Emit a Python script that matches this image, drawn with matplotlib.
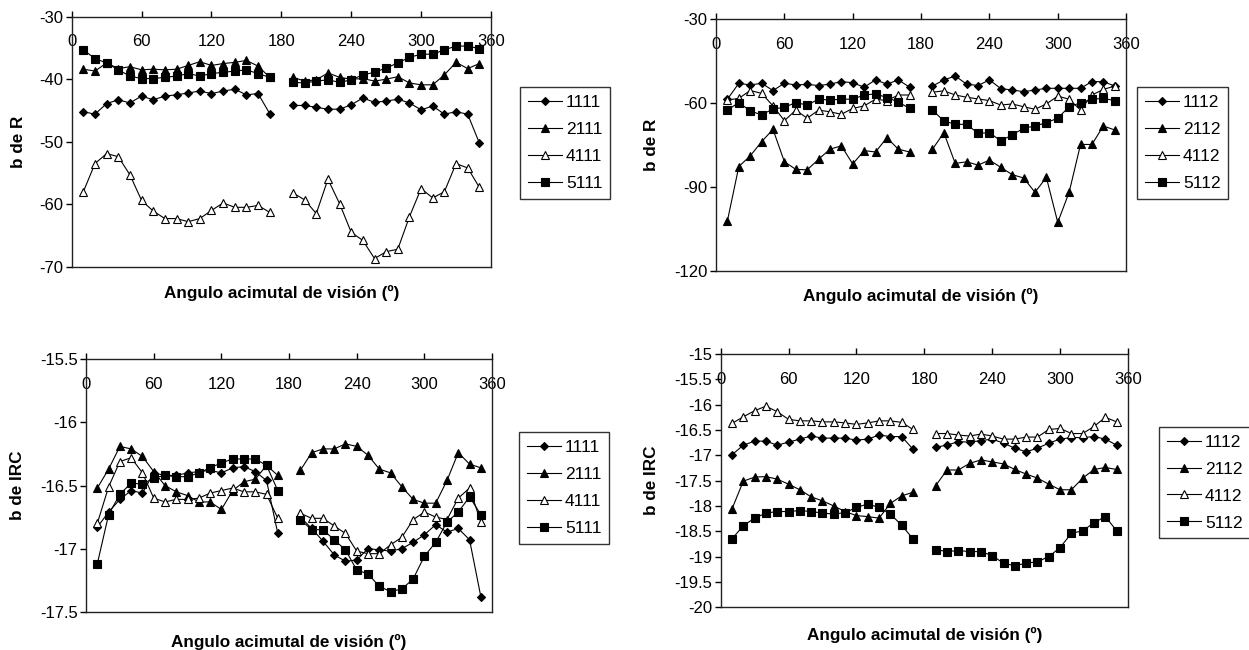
import numpy as np
import matplotlib
matplotlib.use("Agg")
import matplotlib.pyplot as plt

plt.rcParams['font.family'] = ['Liberation Sans', 'DejaVu Sans']
plt.rcParams['axes.unicode_minus'] = False

nan = np.nan

# viewing azimuth (deg); 180 left empty -> gap in the lines
angles = [10, 20, 30, 40, 50, 60, 70, 80, 90, 100, 110, 120, 130, 140, 150, 160, 170,
          180,
          190, 200, 210, 220, 230, 240, 250, 260, 270, 280, 290, 300, 310, 320, 330, 340, 350]

# b de R, plots 1111..5111
r_1111 = [-45.2, -45.6, -43.9, -43.3, -43.8, -42.7, -43.3, -42.7, -42.5, -42.2, -41.9, -42.3, -41.9, -41.6, -42.5, -42.3, -45.5, nan,
          -44.2, -44.2, -44.5, -44.8, -44.8, -44.1, -43.0, -43.7, -43.5, -43.2, -43.8, -44.9, -44.3, -45.6, -45.2, -45.6, -50.2]
r_2111 = [-38.4, -38.7, -37.4, -38.3, -38.0, -38.5, -38.4, -38.5, -38.4, -37.8, -37.2, -37.8, -37.5, -37.3, -37.0, -37.9, -39.7, nan,
          -39.7, -40.3, -40.1, -39.0, -39.7, -40.0, -39.9, -40.3, -40.0, -39.6, -40.6, -40.9, -40.9, -39.3, -37.3, -38.3, -37.5]
r_4111 = [-58.0, -53.5, -51.9, -52.4, -55.3, -59.4, -61.1, -62.3, -62.3, -62.8, -62.3, -61.0, -59.8, -60.5, -60.5, -60.2, -61.3, nan,
          -58.2, -59.3, -61.5, -56.0, -59.9, -64.5, -65.8, -68.7, -67.6, -67.2, -62.0, -57.5, -59.0, -58.0, -53.5, -54.2, -57.3]
r_5111 = [-35.3, -36.7, -37.4, -38.5, -39.5, -39.9, -39.9, -39.7, -39.5, -39.1, -39.5, -39.1, -38.9, -38.7, -38.5, -39.1, -39.7, nan,
          -40.5, -40.6, -40.3, -40.1, -40.5, -40.1, -39.3, -38.9, -38.2, -37.4, -36.5, -36.0, -36.0, -35.3, -34.7, -34.7, -35.1]

# b de R, plots 1112..5112
r_1112 = [-58.6, -52.9, -53.5, -52.9, -55.5, -52.9, -53.5, -53.3, -53.7, -53.2, -52.3, -52.7, -54.3, -51.7, -53.2, -51.7, -54.3, nan,
          -53.9, -51.7, -50.3, -53.2, -53.7, -51.7, -54.8, -55.3, -55.9, -55.3, -54.7, -54.7, -54.7, -54.7, -52.3, -52.3, -53.9]
r_2112 = [-102.1, -82.7, -78.9, -73.8, -69.4, -81.0, -83.7, -83.9, -80.1, -76.5, -75.3, -81.8, -77.0, -77.5, -72.4, -76.5, -77.5, nan,
          -76.5, -70.6, -81.6, -81.0, -82.2, -80.4, -83.0, -85.6, -86.8, -91.9, -86.6, -102.7, -91.9, -74.8, -74.8, -68.2, -69.6]
r_4112 = [-58.9, -58.3, -55.5, -56.5, -61.0, -66.3, -62.5, -65.4, -62.5, -63.1, -64.0, -61.9, -61.0, -58.6, -59.1, -57.1, -57.1, nan,
          -56.1, -55.6, -57.1, -57.9, -58.5, -59.1, -60.7, -60.3, -61.3, -62.2, -60.3, -57.5, -58.6, -62.5, -57.1, -55.1, -53.9]
r_5112 = [-62.5, -59.8, -62.8, -64.2, -62.1, -61.5, -59.8, -60.7, -58.6, -58.9, -58.6, -58.6, -57.1, -56.7, -58.0, -59.6, -61.9, nan,
          -62.5, -66.4, -67.6, -67.6, -70.8, -70.6, -73.5, -71.4, -69.0, -68.2, -67.0, -65.4, -61.3, -59.9, -58.6, -58.3, -59.1]

# b de IRC, plots 1111..5111
irc_1111 = [-16.83, -16.71, -16.61, -16.54, -16.56, -16.40, -16.42, -16.42, -16.40, -16.39, -16.38, -16.40, -16.36, -16.35, -16.39, -16.46, -16.88, nan,
            -16.75, -16.84, -16.94, -17.05, -17.10, -17.09, -17.00, -17.01, -17.02, -17.00, -16.95, -16.89, -16.81, -16.87, -16.84, -16.93, -17.38]
irc_2111 = [-16.52, -16.37, -16.19, -16.21, -16.27, -16.39, -16.50, -16.55, -16.58, -16.63, -16.63, -16.69, -16.54, -16.47, -16.45, -16.34, -16.42, nan,
            -16.38, -16.24, -16.21, -16.21, -16.17, -16.19, -16.26, -16.37, -16.40, -16.51, -16.61, -16.64, -16.64, -16.46, -16.24, -16.33, -16.36]
irc_4111 = [-16.80, -16.51, -16.31, -16.28, -16.40, -16.60, -16.63, -16.61, -16.61, -16.60, -16.56, -16.54, -16.52, -16.55, -16.55, -16.57, -16.76, nan,
            -16.72, -16.76, -16.76, -16.82, -16.88, -17.02, -17.04, -17.04, -16.97, -16.91, -16.77, -16.71, -16.75, -16.77, -16.60, -16.52, -16.79]
irc_5111 = [-17.12, -16.73, -16.57, -16.48, -16.49, -16.44, -16.42, -16.43, -16.43, -16.40, -16.36, -16.32, -16.29, -16.29, -16.29, -16.34, -16.54, nan,
            -16.77, -16.85, -16.85, -16.93, -17.01, -17.17, -17.20, -17.30, -17.34, -17.32, -17.24, -17.06, -16.95, -16.79, -16.71, -16.59, -16.73]

# b de IRC, plots 1112..5112
irc_1112 = [-16.99, -16.80, -16.72, -16.72, -16.80, -16.74, -16.68, -16.62, -16.66, -16.66, -16.66, -16.70, -16.68, -16.60, -16.63, -16.63, -16.88, nan,
            -16.84, -16.80, -16.73, -16.74, -16.71, -16.68, -16.76, -16.86, -16.93, -16.86, -16.76, -16.68, -16.65, -16.65, -16.63, -16.68, -16.80]
irc_2112 = [-18.06, -17.51, -17.43, -17.42, -17.47, -17.57, -17.68, -17.82, -17.90, -18.00, -18.11, -18.19, -18.21, -18.24, -17.95, -17.80, -17.73, nan,
            -17.60, -17.29, -17.29, -17.16, -17.09, -17.13, -17.17, -17.28, -17.37, -17.45, -17.57, -17.68, -17.68, -17.45, -17.28, -17.24, -17.28]
irc_4112 = [-16.37, -16.24, -16.12, -16.03, -16.14, -16.29, -16.32, -16.32, -16.34, -16.34, -16.36, -16.39, -16.36, -16.32, -16.32, -16.35, -16.49, nan,
            -16.57, -16.57, -16.60, -16.62, -16.58, -16.62, -16.68, -16.68, -16.64, -16.64, -16.49, -16.47, -16.57, -16.57, -16.43, -16.25, -16.34]
irc_5112 = [-18.65, -18.39, -18.24, -18.14, -18.11, -18.11, -18.09, -18.11, -18.14, -18.16, -18.13, -18.03, -17.96, -18.03, -18.16, -18.38, -18.65, nan,
            -18.86, -18.90, -18.88, -18.90, -18.90, -18.98, -19.13, -19.18, -19.13, -19.10, -19.00, -18.82, -18.54, -18.49, -18.33, -18.21, -18.49]

x_ticks = [0, 60, 120, 180, 240, 300, 360]

# marker style per series slot: diamond, filled tri, open tri, square
styles = [
    dict(marker='D', ms=4.5, mfc='black'),
    dict(marker='^', ms=6.0, mfc='black'),
    dict(marker='^', ms=6.0, mfc='white'),
    dict(marker='s', ms=5.2, mfc='black'),
]


def draw_panel(rect, series, labels, ylabel, y_ticks, legend_xy, ylab_x, xlab_y):
    ax = fig.add_axes(rect)
    for vals, lab, st in zip(series, labels, styles):
        ax.plot(angles, vals, color='black', lw=0.8, mec='black', mew=0.8,
                label=lab, **st)

    ax.set_xlim(0, 360)
    ax.set_ylim(y_ticks[-1], y_ticks[0])
    ax.set_xticks(x_ticks)
    ax.set_yticks(y_ticks)
    ax.set_yticklabels(['{:g}'.format(v) for v in y_ticks])

    # x axis sits on the top edge, labels drawn just under it
    ax.tick_params(axis='x', top=True, bottom=False, labeltop=True, labelbottom=False,
                   direction='out', length=4, width=1, pad=-27.5, labelsize=12)
    ax.tick_params(axis='y', direction='out', length=4, width=1, labelsize=12, pad=2)
    for sp in ax.spines.values():
        sp.set_linewidth(1.0)
        sp.set_color('#222222')

    ax.set_ylabel(ylabel, fontsize=12.3, fontweight='bold')
    ax.yaxis.set_label_coords(ylab_x, 0.5)
    ax.yaxis.label.set_va('center')
    ax.set_xlabel('Angulo acimutal de visión (º)', fontsize=12.3, fontweight='bold')
    ax.xaxis.set_label_position('bottom')
    ax.xaxis.set_label_coords(0.5, xlab_y)
    ax.xaxis.label.set_va('center')

    handles, labs = ax.get_legend_handles_labels()
    leg = fig.legend(handles, labs, loc='upper left',
                     bbox_to_anchor=legend_xy, bbox_transform=fig.transFigure,
                     fontsize=12.5, frameon=True, fancybox=False, borderaxespad=0,
                     handlelength=2.0, handletextpad=0.2, labelspacing=0.68,
                     borderpad=0.45)
    leg.get_frame().set_edgecolor('black')
    leg.get_frame().set_linewidth(1.0)
    return ax


fig = plt.figure(figsize=(12.49, 6.5), dpi=100)

draw_panel([0.0574, 0.5897, 0.3357, 0.3846], [r_1111, r_2111, r_4111, r_5111],
           ['1111', '2111', '4111', '5111'], 'b de R', [-30, -40, -50, -60, -70],
           (0.4163, 0.8662), -0.128, -0.105)
draw_panel([0.5733, 0.5835, 0.3283, 0.3868], [r_1112, r_2112, r_4112, r_5112],
           ['1112', '2112', '4112', '5112'], 'b de R', [-30, -60, -90, -120],
           (0.9103, 0.8662), -0.157, -0.10)
draw_panel([0.0689, 0.0589, 0.3251, 0.3883], [irc_1111, irc_2111, irc_4111, irc_5111],
           ['1111', '2111', '4111', '5111'], 'b de IRC', [-15.5, -16, -16.5, -17, -17.5],
           (0.4155, 0.3354), -0.17, -0.119)
draw_panel([0.5770, 0.0657, 0.3261, 0.3897], [irc_1112, irc_2112, irc_4112, irc_5112],
           ['1112', '2112', '4112', '5112'], 'b de IRC',
           [-15, -15.5, -16, -16.5, -17, -17.5, -18, -18.5, -19, -19.5, -20],
           (0.9279, 0.3436), -0.169, -0.109)

fig.savefig('out.png', dpi=100)
